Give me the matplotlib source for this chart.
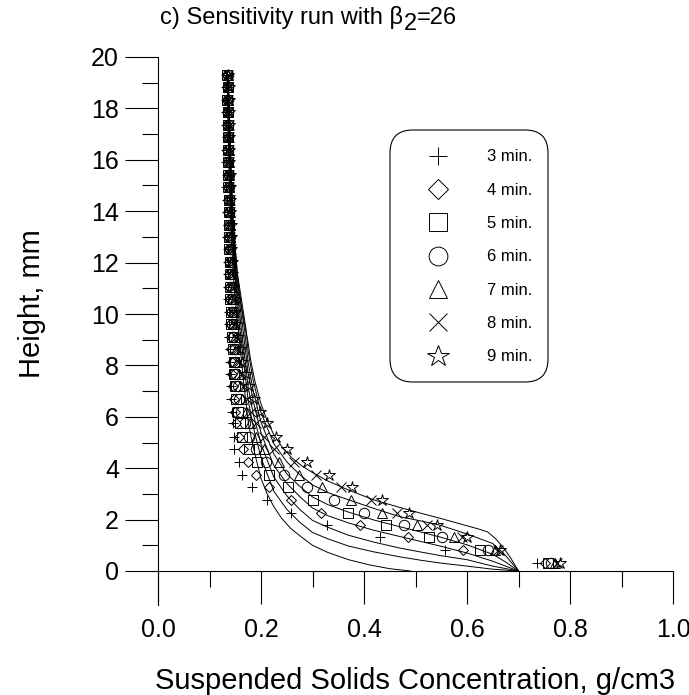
import numpy as np
import matplotlib
matplotlib.use("Agg")
import matplotlib.pyplot as plt
from matplotlib.patches import FancyBboxPatch

plt.rcParams['font.family'] = ['Liberation Sans', 'DejaVu Sans']

# measured heights (mm), shared by all runs
heights = [0.33, 0.81, 1.32, 1.78, 2.26, 2.76, 3.25, 3.74, 4.23, 4.73,
           5.23, 5.74, 6.2, 6.7, 7.18, 7.67, 8.15, 8.64, 9.12, 9.6,
           10.09, 10.57, 11.06, 11.54, 12.03, 12.51, 13.0, 13.48, 13.97, 14.45,
           14.94, 15.42, 15.91, 16.39, 16.88, 17.36, 17.85, 18.33, 18.82, 19.3]

# measured concentrations (g/cm3) for each time
conc_3 = [0.736, 0.558, 0.432, 0.329, 0.258, 0.212, 0.183, 0.164, 0.157, 0.147,
          0.148, 0.145, 0.143, 0.142, 0.141, 0.140, 0.139, 0.139,
          0.138, 0.137, 0.137, 0.136, 0.136, 0.135, 0.136, 0.135, 0.134, 0.135,
          0.134, 0.134, 0.133, 0.134, 0.133, 0.133, 0.134, 0.133, 0.132, 0.133, 0.132, 0.133]
conc_4 = [0.752, 0.593, 0.486, 0.393, 0.316, 0.258, 0.216, 0.19, 0.174, 0.166,
          0.157, 0.152, 0.149, 0.147, 0.145, 0.144, 0.143, 0.142,
          0.141, 0.140, 0.139, 0.139, 0.138, 0.138, 0.137, 0.137, 0.136, 0.137,
          0.136, 0.135, 0.136, 0.135, 0.135, 0.134, 0.135, 0.134, 0.134, 0.135, 0.134, 0.134]
conc_5 = [0.758, 0.626, 0.527, 0.442, 0.368, 0.30, 0.253, 0.216, 0.192, 0.176,
          0.164, 0.16, 0.155, 0.152, 0.150, 0.148, 0.147, 0.146,
          0.144, 0.142, 0.141, 0.140, 0.140, 0.139, 0.139, 0.138, 0.138, 0.137,
          0.137, 0.137, 0.136, 0.136, 0.136, 0.135, 0.135, 0.135, 0.135, 0.134, 0.135, 0.134]
conc_6 = [0.764, 0.641, 0.552, 0.477, 0.40, 0.342, 0.29, 0.245, 0.21, 0.19,
          0.177, 0.168, 0.162, 0.158, 0.155, 0.152, 0.150, 0.149,
          0.146, 0.144, 0.143, 0.142, 0.141, 0.140, 0.140, 0.139, 0.139, 0.138,
          0.138, 0.137, 0.137, 0.137, 0.136, 0.136, 0.136, 0.135, 0.136, 0.135, 0.135, 0.135]
conc_7 = [0.77, 0.655, 0.574, 0.503, 0.435, 0.374, 0.319, 0.274, 0.235, 0.205,
          0.19, 0.178, 0.17, 0.164, 0.16, 0.157, 0.154, 0.152,
          0.149, 0.146, 0.145, 0.143, 0.142, 0.141, 0.141, 0.140, 0.140, 0.139,
          0.139, 0.138, 0.138, 0.137, 0.137, 0.137, 0.136, 0.136, 0.136, 0.136, 0.135, 0.135]
conc_8 = [0.775, 0.66, 0.59, 0.523, 0.465, 0.413, 0.355, 0.306, 0.264, 0.225,
          0.205, 0.19, 0.18, 0.172, 0.166, 0.162, 0.158, 0.155,
          0.151, 0.148, 0.146, 0.145, 0.143, 0.142, 0.142, 0.141, 0.140, 0.140,
          0.139, 0.139, 0.138, 0.138, 0.138, 0.137, 0.137, 0.137, 0.136, 0.136, 0.136, 0.136]
conc_9 = [0.78, 0.665, 0.60, 0.542, 0.487, 0.435, 0.377, 0.332, 0.289, 0.251,
          0.229, 0.2125, 0.198, 0.186, 0.177, 0.17, 0.164, 0.16,
          0.155, 0.151, 0.149, 0.147, 0.145, 0.144, 0.143, 0.142, 0.141, 0.141,
          0.140, 0.140, 0.139, 0.139, 0.138, 0.138, 0.138, 0.137, 0.137, 0.137, 0.137, 0.136]

# model curves (x = concentration, y = height)
model_3_x = [0.134, 0.136, 0.138, 0.141, 0.144, 0.147, 0.151, 0.156, 0.161, 0.166, 0.171, 0.176,
             0.183, 0.19, 0.2, 0.212, 0.225, 0.24, 0.258, 0.28, 0.3, 0.33, 0.37, 0.41, 0.45, 0.49]
model_3_y = [19.3, 17.5, 15.5, 13.7, 12.4, 11.4, 10.4, 9.4, 8.4, 7.4, 6.5, 5.7,
             5.0, 4.4, 3.6, 3.0, 2.5, 2.05, 1.65, 1.3, 1.0, 0.72, 0.44, 0.24, 0.09, 0.0]
model_4_x = [0.135, 0.138, 0.142, 0.149, 0.159, 0.175, 0.185, 0.2, 0.225, 0.25, 0.275, 0.3,
             0.33, 0.37, 0.42, 0.47, 0.51, 0.548, 0.6, 0.65, 0.70]
model_4_y = [19.3, 16.9, 13.7, 11.6, 9.4, 6.64, 5.6, 4.41, 3.1, 2.4, 1.9, 1.5,
             1.25, 0.97, 0.74, 0.55, 0.42, 0.31, 0.19, 0.07, 0.0]
model_5_x = [0.135, 0.138, 0.143, 0.15, 0.162, 0.175, 0.185, 0.2, 0.225, 0.25, 0.275, 0.3,
             0.33, 0.37, 0.42, 0.47, 0.51, 0.548, 0.6, 0.65, 0.70]
model_5_y = [19.3, 16.9, 13.7, 11.6, 9.4, 7.17, 6.1, 4.94, 3.65, 2.93, 2.4, 1.97,
             1.7, 1.39, 1.12, 0.89, 0.74, 0.6, 0.44, 0.19, 0.0]
model_6_x = [0.135, 0.139, 0.144, 0.151, 0.165, 0.175, 0.185, 0.2, 0.225, 0.25, 0.275, 0.3,
             0.33, 0.37, 0.42, 0.47, 0.51, 0.548, 0.6, 0.65, 0.70]
model_6_y = [19.3, 16.9, 13.7, 11.6, 9.4, 7.7, 6.6, 5.37, 4.1, 3.41, 2.9, 2.45,
             2.15, 1.87, 1.58, 1.34, 1.15, 0.97, 0.7, 0.38, 0.0]
model_7_x = [0.136, 0.139, 0.144, 0.152, 0.168, 0.175, 0.185, 0.2, 0.225, 0.25, 0.275, 0.3,
             0.33, 0.37, 0.42, 0.47, 0.51, 0.548, 0.6, 0.65, 0.675, 0.70]
model_7_y = [19.3, 16.9, 13.7, 11.6, 9.4, 8.12, 7.0, 5.79, 4.55, 3.78, 3.3, 2.88,
             2.58, 2.29, 1.98, 1.72, 1.52, 1.32, 1.02, 0.65, 0.35, 0.0]
model_8_x = [0.136, 0.14, 0.145, 0.154, 0.171, 0.175, 0.185, 0.2, 0.225, 0.25, 0.275, 0.3,
             0.33, 0.37, 0.42, 0.47, 0.51, 0.548, 0.6, 0.65, 0.675, 0.70]
model_8_y = [19.3, 16.9, 13.7, 11.6, 9.4, 8.55, 7.4, 6.16, 4.95, 4.25, 3.75, 3.35,
             3.05, 2.77, 2.43, 2.11, 1.95, 1.78, 1.44, 1.07, 0.6, 0.0]
model_9_x = [0.136, 0.139, 0.142, 0.146, 0.15, 0.155, 0.162, 0.168, 0.174, 0.18, 0.188, 0.2,
             0.212, 0.225, 0.24, 0.26, 0.28, 0.3, 0.33, 0.37, 0.42, 0.47, 0.51, 0.548,
             0.6, 0.625, 0.64, 0.655, 0.67, 0.685, 0.70]
model_9_y = [19.3, 17.5, 15.5, 13.7, 12.5, 11.4, 10.3, 9.6, 9.0, 8.2, 7.4, 6.5,
             5.85, 5.3, 4.85, 4.4, 4.08, 3.83, 3.5, 3.15, 2.76, 2.47, 2.25, 2.05,
             1.76, 1.62, 1.52, 1.27, 0.93, 0.5, 0.0]

labels = ["3 min.", "4 min.", "5 min.", "6 min.", "7 min.", "8 min.", "9 min."]
markers = ["+", "D", "s", "o", "^", "x", "*"]
marker_sizes = [7.5, 5.5, 7.0, 7.5, 7.5, 7.0, 9.0]

fig = plt.figure(figsize=(6.89, 6.95), dpi=100)
ax = fig.add_axes([158 / 689, 1 - 605 / 695, 515 / 689, (605 - 57) / 695])

for mx, my in [(model_3_x, model_3_y), (model_4_x, model_4_y), (model_5_x, model_5_y),
               (model_6_x, model_6_y), (model_7_x, model_7_y), (model_8_x, model_8_y),
               (model_9_x, model_9_y)]:
    ax.plot(mx, my, color="black", lw=0.7, zorder=2)

handles = []
for conc, mk, ms, lab in zip([conc_3, conc_4, conc_5, conc_6, conc_7, conc_8, conc_9],
                             markers, marker_sizes, labels):
    h, = ax.plot(conc, heights, linestyle="none", marker=mk, ms=ms, mfc="none",
                 mec="black", mew=0.7, label=lab, zorder=3)
    handles.append(h)

ax.set_xlim(0, 1.0)
ax.set_ylim(-34 / 25.7, 20)
ax.spines["top"].set_visible(False)
ax.spines["right"].set_visible(False)
ax.spines["bottom"].set_position(("data", 0))
for s in ("left", "bottom"):
    ax.spines[s].set_linewidth(0.8)

ax.set_xticks(np.arange(0, 1.01, 0.2))
ax.set_xticks(np.arange(0.1, 1.0, 0.2), minor=True)
ax.set_xticklabels(["0.0", "0.2", "0.4", "0.6", "0.8", "1.0"])
ax.set_yticks(np.arange(0, 21, 2))
ax.set_yticks(np.arange(1, 20, 2), minor=True)
ax.tick_params(which="major", direction="out", length=24, width=0.8, labelsize=18)
ax.tick_params(which="minor", direction="out", length=11.5, width=0.8)
ax.tick_params(axis="x", which="major", pad=10)
ax.tick_params(axis="y", which="major", pad=4)

# legend in a rounded box
box = FancyBboxPatch((390 / 689, 1 - 382 / 695), (548 - 390) / 689, (382 - 130) / 695,
                     boxstyle="round,pad=0,rounding_size=0.033", transform=fig.transFigure,
                     fc="white", ec="black", lw=0.8, zorder=5, clip_on=False)
ax.add_patch(box)
leg = ax.legend(handles=handles, loc="upper left", bbox_to_anchor=(413 / 689, 1 - 141 / 695),
                bbox_transform=fig.transFigure, frameon=False, fontsize=12, markerscale=1.8,
                borderpad=0, handlelength=2.0, handletextpad=1.94, labelspacing=1.1)
leg.set_zorder(6)

fig.text(32 / 689, 1 - 304 / 695, "Height, mm", rotation=90, ha="center", va="center", fontsize=21)
fig.text(415 / 689, 1 - 681 / 695, "Suspended Solids Concentration, g/cm3",
         ha="center", va="center", fontsize=21)

# title with lowered "2"
t1 = fig.text(160 / 689, 1 - 24 / 695, "c) Sensitivity run with \u03b2", fontsize=17,
              ha="left", va="baseline")
t2 = ax.annotate("2", xy=(1, 0), xycoords=t1, xytext=(0.5, -4), textcoords="offset points",
                 fontsize=17, ha="left", va="bottom", annotation_clip=False)
ax.annotate("=26", xy=(1, 0), xycoords=t2, xytext=(0, 4), textcoords="offset points",
            fontsize=17, ha="left", va="bottom", annotation_clip=False)

fig.savefig("out.png", dpi=100)
